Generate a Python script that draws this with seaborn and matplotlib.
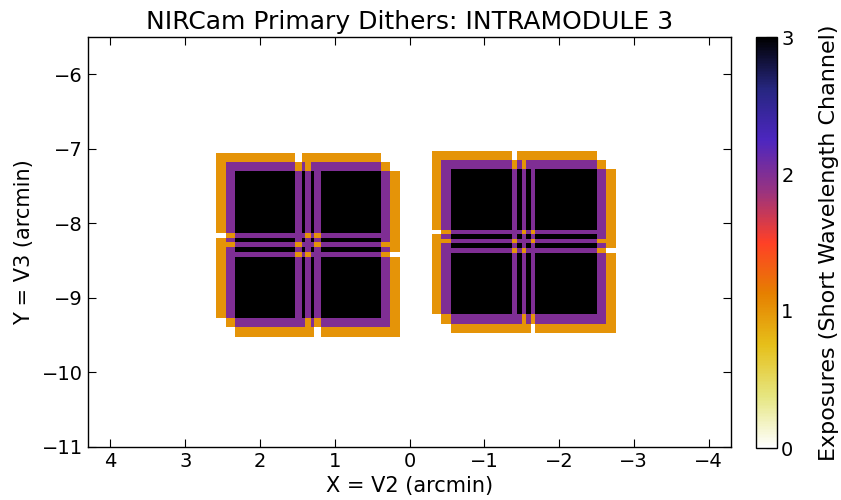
import numpy as np
import matplotlib
matplotlib.use("Agg")
import matplotlib.pyplot as plt
import seaborn as sns

# ---- data (arcmin), detector edges for the central dither position ----
detectors = ["B1", "B2", "B3", "B4", "A1", "A2", "A3", "A4"]
det_x_left = [2.459, 1.320, 2.459, 1.320, -0.421, -1.548, -0.421, -1.548]
det_x_right = [1.404, 0.267, 1.404, 0.267, -1.492, -2.619, -1.492, -2.619]
det_y_top = [-7.177, -7.177, -8.320, -8.320, -7.151, -7.151, -8.270, -8.270]
det_y_bottom = [-8.253, -8.253, -9.395, -9.395, -8.210, -8.210, -9.343, -9.343]

# dither offsets (arcmin)
dither_dx = [0.125, 0.0, -0.125]
dither_dy = [0.125, 0.0, -0.125]

x_ticks = [4, 3, 2, 1, 0, -1, -2, -3, -4]
y_ticks = [-6, -7, -8, -9, -10, -11]
cbar_ticks = [0, 1, 2, 3]

title = "NIRCam Primary Dithers: INTRAMODULE 3"
xlabel = "X = V2 (arcmin)"
ylabel = "Y = V3 (arcmin)"
cbar_label = "Exposures (Short Wavelength Channel)"

# ---- build exposure map ----
xmin, xmax, ymin, ymax = -4.3, 4.3, -11.0, -5.5
res = 0.005
xs = np.arange(xmin, xmax, res) + res / 2
ys = np.arange(ymin, ymax, res) + res / 2
X, Y = np.meshgrid(xs, ys)
counts = np.zeros_like(X)
for dx, dy in zip(dither_dx, dither_dy):
    for xl, xr, yt, yb in zip(det_x_left, det_x_right, det_y_top, det_y_bottom):
        m = (X <= xl + dx) & (X >= xr + dx) & (Y <= yt + dy) & (Y >= yb + dy)
        counts += m

# ---- style ----
sns.set_theme(style="ticks", rc={
    "xtick.direction": "in", "ytick.direction": "in",
    "xtick.top": True, "ytick.right": True,
    "axes.edgecolor": "black", "axes.linewidth": 1.0,
    "xtick.color": "black", "ytick.color": "black",
    "text.color": "black", "axes.labelcolor": "black",
})
plt.rcParams["font.family"] = ["DejaVu Sans"]

fig = plt.figure(figsize=(8.41, 5.0), dpi=100)
ax = fig.add_axes([88 / 841, 1 - 447 / 500, (731 - 88) / 841, (447 - 37) / 500])
im = ax.imshow(counts, origin="lower", extent=[xmin, xmax, ymin, ymax],
               cmap="CMRmap_r", vmin=0, vmax=3, aspect="auto",
               interpolation="nearest")
ax.set_xlim(xmax, xmin)
ax.set_ylim(ymin, ymax)
ax.set_xticks(x_ticks)
ax.set_yticks(y_ticks)
ax.tick_params(which="major", direction="in", length=6, width=0.8,
               labelsize=14, top=True, right=True)
ax.set_xlabel(xlabel, fontsize=15, labelpad=4)
ax.set_ylabel(ylabel, fontsize=15, labelpad=6)
ax.set_title(title, fontsize=18, pad=6)

cax = fig.add_axes([756 / 841, 1 - 448 / 500, 21 / 841, 411 / 500])
cb = fig.colorbar(im, cax=cax, ticks=cbar_ticks)
cb.outline.set_edgecolor("black")
cb.outline.set_linewidth(1.0)
cax.tick_params(direction="in", length=8, width=0.8, labelsize=14, pad=3)
cb.set_label(cbar_label, fontsize=16, labelpad=18)

fig.savefig("out.png", dpi=100)
